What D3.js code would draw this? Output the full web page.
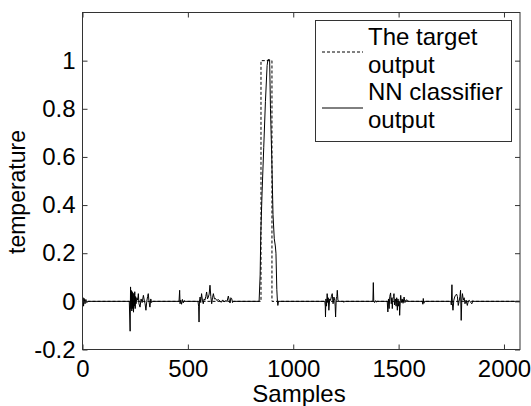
<!DOCTYPE html>
<html>
<head>
<meta charset="utf-8">
<script src="https://cdn.jsdelivr.net/npm/d3@7"></script>
<style>
  body { margin: 0; background: #fff; }
  text { font-family: "Liberation Sans", Arial, sans-serif; fill: #000; }
</style>
</head>
<body>
<div id="vis"></div>
<script>
const FRAME_WIDTH = 531;
const FRAME_HEIGHT = 406;
const MARGINS = {left: 82.5, right: 11, top: 12.5, bottom: 56.5};
const FONT_SIZE = 24;

// data
const xTicks = [0, 500, 1000, 1500, 2000];
const yTicks = [-0.2, 0, 0.2, 0.4, 0.6, 0.8, 1];
const legendLabels = [["The target", "output"], ["NN classifier", "output"]];

const targetSamples = [0, 847, 847, 899, 899, 2076];
const targetValues  = [0, 0, 1, 1, 0, 0];

const nnSamples = [
  0, 3, 5, 8, 12, 16, 20, 26,
  222, 226, 228, 230, 232, 234, 236, 238, 240, 242, 244, 246, 248, 250, 252, 254, 258, 262,
  265, 268, 273, 278, 283, 289, 293, 297, 301, 305, 309, 312, 315, 318, 320, 324, 328, 332,
  458, 461, 463, 466, 470, 474, 478, 484, 488,
  548, 551, 553, 555, 558, 561, 565, 569, 573, 577, 581, 585, 589, 593, 597, 601, 605, 609,
  613, 617, 621, 626, 631, 637, 645, 652, 658, 665, 672, 680, 686, 692, 696, 700, 704, 708, 712, 716,
  838, 843, 846, 852, 860, 868, 876, 880, 888, 892, 898, 904, 910, 915, 918, 922, 925, 927, 930,
  1150, 1152, 1153, 1155, 1158, 1161, 1164, 1166, 1169, 1173, 1177, 1181, 1185, 1189, 1193,
  1197, 1199, 1201, 1204, 1207, 1209, 1212, 1217, 1238, 1240, 1242,
  1376, 1378, 1380, 1382, 1386, 1390, 1394, 1398,
  1446, 1449, 1452, 1455, 1458, 1462, 1465, 1468, 1470, 1473, 1476, 1478, 1481, 1485, 1488,
  1491, 1494, 1497, 1500, 1503, 1505, 1508, 1510, 1513, 1517, 1521, 1526, 1530, 1535, 1542, 1548,
  1612, 1615, 1617, 1620, 1623,
  1748, 1750, 1753, 1755, 1758, 1762, 1766, 1770, 1775, 1779, 1783, 1787, 1791, 1794, 1797,
  1800, 1803, 1807, 1811, 1815, 1820, 1826, 1831, 1836, 1842, 1848, 1852, 1856,
  2076
];
const nnValues = [
  0, 0.015, -0.02, 0.012, -0.01, 0.008, -0.005, 0,
  0, -0.124, 0.06, -0.03, 0.045, -0.04, 0.04, -0.03, 0.035, -0.045, 0.03, -0.02, 0.04, -0.03, 0.02, -0.01, 0.015, 0.005,
  0.032, -0.01, -0.024, 0.01, -0.005, 0.025, 0.005, -0.01, -0.037, 0, 0.02, 0.032, 0.005, -0.015, -0.024, 0.01, -0.005, 0,
  0, 0.046, -0.01, 0.005, -0.012, 0.008, -0.006, 0.003, 0,
  0, -0.02, -0.086, 0, 0.018, -0.005, 0.032, 0.005, -0.01, 0.01, 0.005, 0.02, 0.039, 0.01, 0.018, 0.03, 0.067, 0.02,
  -0.01, 0.015, 0.032, 0.01, 0.012, 0.004, 0.007, 0.002, -0.004, 0.006, -0.002, 0.003, 0, 0.022, 0.005, -0.007, 0.015, 0.011, -0.005, 0,
  0, 0.11, 0.28, 0.45, 0.64, 0.83, 0.98, 1.004, 1.004, 0.8, 0.6, 0.36, 0.26, 0.23, 0.2, 0.05, 0, -0.017, 0,
  0, -0.02, -0.065, 0.01, -0.02, 0.032, -0.005, 0.015, -0.037, 0.01, 0.004, 0.02, 0.032, -0.01, 0.018,
  0.005, -0.02, -0.065, 0.01, 0.02, 0.046, 0.005, 0, 0, -0.004, 0,
  0, 0, 0.078, 0.002, -0.005, 0.003, -0.003, 0,
  0, -0.044, 0.01, -0.03, 0.02, 0.035, -0.01, 0.015, -0.03, 0.01, 0.02, 0.032, -0.015, 0.01, -0.02,
  0.015, -0.037, 0.01, -0.02, 0, -0.058, 0.005, 0.025, -0.005, 0.01, -0.008, 0.018, -0.005, 0.006, 0.004, 0,
  0, -0.012, 0.012, -0.008, 0,
  0, -0.015, 0.069, -0.01, -0.037, 0.005, 0.018, 0.025, 0.03, 0.02, -0.017, 0, 0.02, 0.046, -0.079,
  0.01, 0.032, 0.005, 0.015, -0.01, 0.005, -0.017, 0.002, 0.004, -0.005, -0.01, 0.003, 0,
  0
];

const X_SCALE = d3.scaleLinear()
                  .domain([0, 2076])
                  .range([MARGINS.left, FRAME_WIDTH - MARGINS.right]);

const Y_SCALE = d3.scaleLinear()
                  .domain([-0.2, 1.2])
                  .range([FRAME_HEIGHT - MARGINS.bottom, MARGINS.top]);

const SVG = d3.select("#vis")
              .append("svg")
                .attr("width", FRAME_WIDTH)
                .attr("height", FRAME_HEIGHT);

SVG.append("clipPath").attr("id", "plot-clip")
   .append("rect")
     .attr("x", MARGINS.left)
     .attr("y", MARGINS.top)
     .attr("width", X_SCALE.range()[1] - MARGINS.left)
     .attr("height", Y_SCALE.range()[0] - MARGINS.top);

const line = d3.line()
               .x((d) => X_SCALE(d[0]))
               .y((d) => Y_SCALE(d[1]));

// target output (dotted)
SVG.append("path")
   .datum(targetSamples.map((s, i) => [s, targetValues[i]]))
   .attr("d", line)
   .attr("clip-path", "url(#plot-clip)")
   .attr("fill", "none")
   .attr("stroke", "#000")
   .attr("stroke-width", 1)
   .attr("stroke-dasharray", "3,2");

// NN classifier output (solid)
SVG.append("path")
   .datum(nnSamples.map((s, i) => [s, nnValues[i]]))
   .attr("d", line)
   .attr("clip-path", "url(#plot-clip)")
   .attr("fill", "none")
   .attr("stroke", "#000")
   .attr("stroke-width", 1);

// axes with inward ticks on all four sides
const xBottom = FRAME_HEIGHT - MARGINS.bottom;
const xRight = FRAME_WIDTH - MARGINS.right;

function styleAxis(g, showText) {
  g.select(".domain").remove();
  g.selectAll(".tick line").attr("stroke", "#333");
  if (showText) {
    g.selectAll(".tick text").attr("font-size", FONT_SIZE + "px")
     .attr("font-family", "Liberation Sans, Arial, sans-serif").attr("fill", "#000");
  } else {
    g.selectAll(".tick text").remove();
  }
}

SVG.append("g")
   .attr("transform", "translate(0," + xBottom + ")")
   .call(d3.axisBottom(X_SCALE).tickValues(xTicks).tickSize(-5).tickPadding(10)
           .tickFormat(d3.format("d")))
   .call((g) => styleAxis(g, true));

SVG.append("g")
   .attr("transform", "translate(0," + MARGINS.top + ")")
   .call(d3.axisTop(X_SCALE).tickValues(xTicks).tickSize(-5))
   .call((g) => styleAxis(g, false));

SVG.append("g")
   .attr("transform", "translate(" + MARGINS.left + ",0)")
   .call(d3.axisLeft(Y_SCALE).tickValues(yTicks).tickSize(-5).tickPadding(7)
           .tickFormat((d) => String(Math.round(d * 10) / 10)))
   .call((g) => styleAxis(g, true));

SVG.append("g")
   .attr("transform", "translate(" + xRight + ",0)")
   .call(d3.axisRight(Y_SCALE).tickValues(yTicks).tickSize(-5))
   .call((g) => styleAxis(g, false));

// box
SVG.append("rect")
   .attr("x", MARGINS.left)
   .attr("y", MARGINS.top)
   .attr("width", xRight - MARGINS.left)
   .attr("height", xBottom - MARGINS.top)
   .attr("fill", "none")
   .attr("stroke", "#333")
   .attr("stroke-width", 1);

// axis labels
SVG.append("text")
   .attr("x", 299)
   .attr("y", 402)
   .attr("text-anchor", "middle")
   .attr("font-size", FONT_SIZE + "px")
   .text("Samples");

SVG.append("text")
   .attr("transform", "translate(25,192) rotate(-90)")
   .attr("text-anchor", "middle")
   .attr("font-size", (FONT_SIZE - 1) + "px")
   .text("temperature");

// legend
const LEGEND = SVG.append("g");
LEGEND.append("rect")
      .attr("x", 315.5).attr("y", 20.5)
      .attr("width", 196).attr("height", 121)
      .attr("fill", "#fff")
      .attr("stroke", "#333");

const legendLineY = [52, 108];
const legendDash = ["3,2", null];
legendLabels.forEach((lines, i) => {
  LEGEND.append("line")
        .attr("x1", 322).attr("x2", 363)
        .attr("y1", legendLineY[i]).attr("y2", legendLineY[i])
        .attr("stroke", "#000")
        .attr("stroke-dasharray", legendDash[i]);
  lines.forEach((t, j) => {
    LEGEND.append("text")
          .attr("x", 368)
          .attr("y", 45 + (i * 2 + j) * 27.7)
          .attr("font-size", FONT_SIZE + "px")
          .text(t);
  });
});
</script>
</body>
</html>
